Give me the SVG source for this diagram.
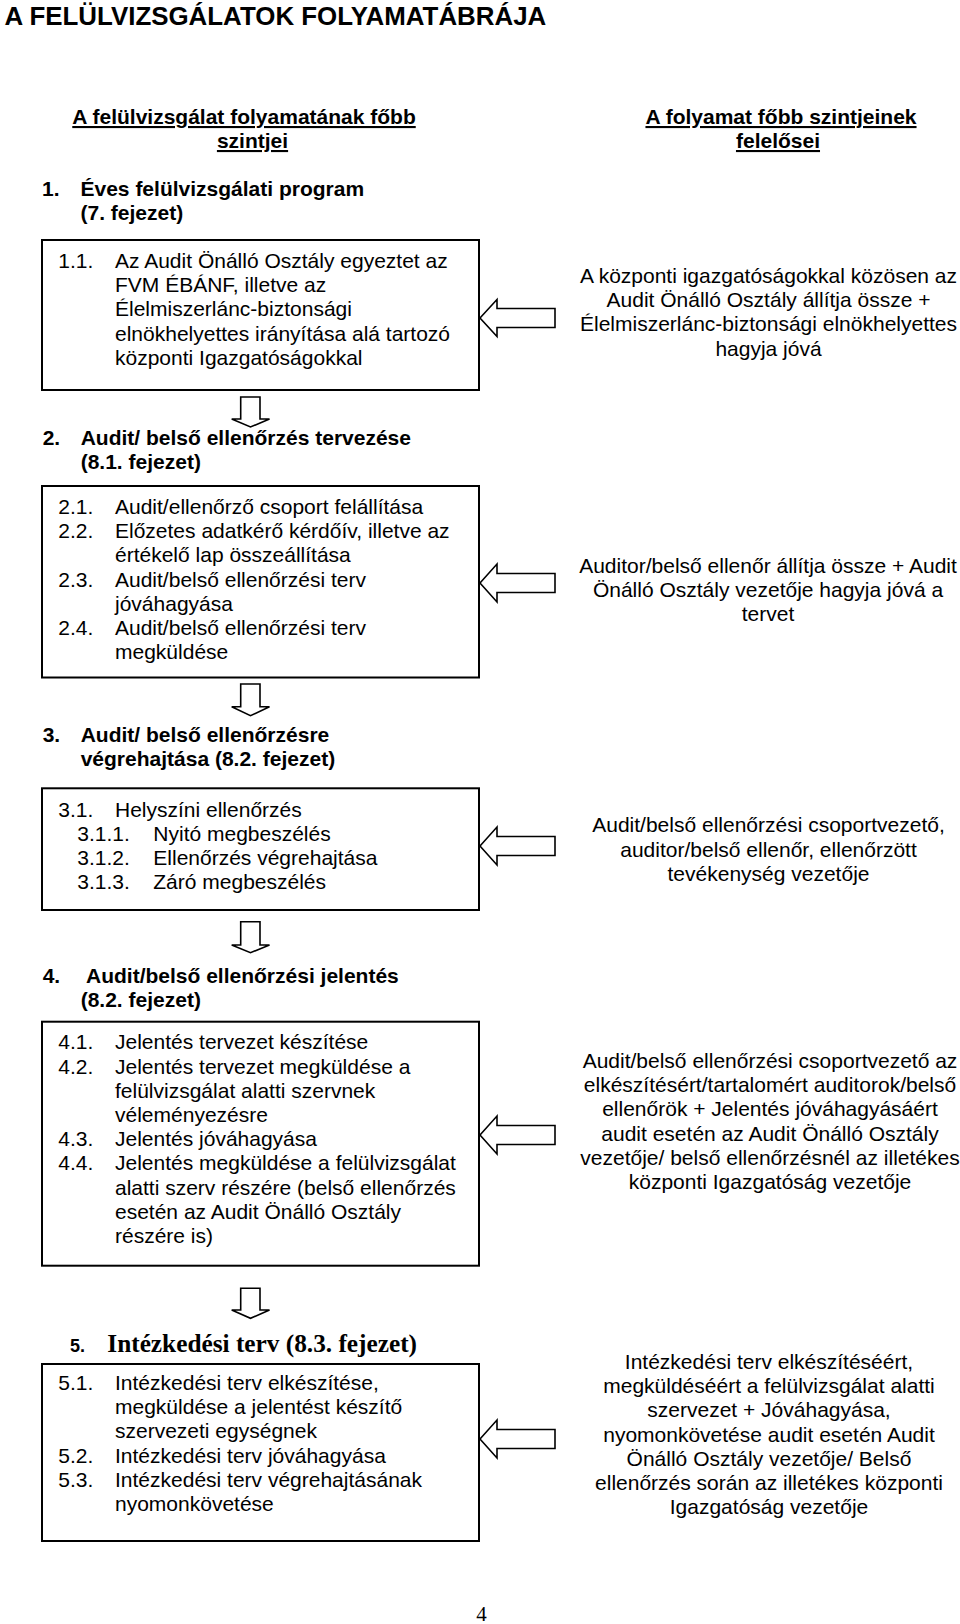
<svg xmlns="http://www.w3.org/2000/svg" width="960" height="1624" viewBox="0 0 960 1624">
<style>
text { font-family: "Liberation Sans", Arial, sans-serif; fill: #000; font-size: 21px; }
.b { font-weight: bold; }
.u { text-decoration: underline; }
.title { font-size: 25.9px; font-weight: bold; }
.r { text-anchor: middle; }
.c { text-anchor: middle; }
.ser { font-family: "Liberation Serif", "Times New Roman", serif; }
.box { fill: #fff; stroke: #000; stroke-width: 2; }
.arr { fill: #fff; stroke: #000; stroke-width: 1.6; stroke-linejoin: miter; }
</style>
<rect width="960" height="1624" fill="#fff"/>

<g id="title">
<text class="title" x="4.5" y="25">A FELÜLVIZSGÁLATOK FOLYAMATÁBRÁJA</text>
</g>

<g id="header-left">
<text class="b u c" x="244" y="124">A felülvizsgálat folyamatának főbb</text>
<text class="b u c" x="252.5" y="148">szintjei</text>
</g>
<g id="header-right">
<text class="b u c" x="781" y="124">A folyamat főbb szintjeinek</text>
<text class="b u c" x="778" y="148">felelősei</text>
</g>

<g id="step1">
<text class="b" x="42" y="196">1.</text>
<text class="b" x="80.5" y="196">Éves felülvizsgálati program</text>
<text class="b" x="80.5" y="220">(7. fejezet)</text>
</g>

<g id="box1">
<rect class="box" x="42" y="240" width="437" height="150"/>
<text x="58.3" y="268">1.1.</text>
<text x="115" y="268">Az Audit Önálló Osztály egyeztet az</text>
<text x="115" y="292.2">FVM ÉBÁNF, illetve az</text>
<text x="115" y="316.4">Élelmiszerlánc-biztonsági</text>
<text x="115" y="340.6">elnökhelyettes irányítása alá tartozó</text>
<text x="115" y="364.8">központi Igazgatóságokkal</text>
</g>

<g id="resp1">
<text class="r" x="768.5" y="283">A központi igazgatóságokkal közösen az</text>
<text class="r" x="768.5" y="307.2">Audit Önálló Osztály állítja össze +</text>
<text class="r" x="768.5" y="331.4">Élelmiszerlánc-biztonsági elnökhelyettes</text>
<text class="r" x="768.5" y="355.6">hagyja jóvá</text>
</g>

<g id="step2">
<text class="b" x="42.7" y="445">2.</text>
<text class="b" x="80.7" y="445">Audit/ belső ellenőrzés tervezése</text>
<text class="b" x="80.7" y="469">(8.1. fejezet)</text>
</g>

<g id="box2">
<rect class="box" x="42" y="486" width="437" height="191.5"/>
<text x="58.3" y="514">2.1.</text>
<text x="115" y="514">Audit/ellenőrző csoport felállítása</text>
<text x="58.3" y="538.2">2.2.</text>
<text x="115" y="538.2">Előzetes adatkérő kérdőív, illetve az</text>
<text x="115" y="562.4">értékelő lap összeállítása</text>
<text x="58.3" y="586.6">2.3.</text>
<text x="115" y="586.6">Audit/belső ellenőrzési terv</text>
<text x="115" y="610.8">jóváhagyása</text>
<text x="58.3" y="635">2.4.</text>
<text x="115" y="635">Audit/belső ellenőrzési terv</text>
<text x="115" y="659.2">megküldése</text>
</g>

<g id="resp2">
<text class="r" x="768" y="573">Auditor/belső ellenőr állítja össze + Audit</text>
<text class="r" x="768" y="597.2">Önálló Osztály vezetője hagyja jóvá a</text>
<text class="r" x="768" y="621.4">tervet</text>
</g>

<g id="step3">
<text class="b" x="42.7" y="741.7">3.</text>
<text class="b" x="80.7" y="741.7">Audit/ belső ellenőrzésre</text>
<text class="b" x="80.7" y="765.7">végrehajtása (8.2. fejezet)</text>
</g>

<g id="box3">
<rect class="box" x="42" y="788.3" width="437" height="121.7"/>
<text x="58.3" y="816.7">3.1.</text>
<text x="115" y="816.7">Helyszíni ellenőrzés</text>
<text x="77.3" y="840.9">3.1.1.</text>
<text x="153.3" y="840.9">Nyitó megbeszélés</text>
<text x="77.3" y="865.1">3.1.2.</text>
<text x="153.3" y="865.1">Ellenőrzés végrehajtása</text>
<text x="77.3" y="889.3">3.1.3.</text>
<text x="153.3" y="889.3">Záró megbeszélés</text>
</g>

<g id="resp3">
<text class="r" x="768.5" y="832.3">Audit/belső ellenőrzési csoportvezető,</text>
<text class="r" x="768.5" y="856.5">auditor/belső ellenőr, ellenőrzött</text>
<text class="r" x="768.5" y="880.7">tevékenység vezetője</text>
</g>

<g id="step4">
<text class="b" x="42.7" y="983.3">4.</text>
<text class="b" x="86" y="983.3">Audit/belső ellenőrzési jelentés</text>
<text class="b" x="80.7" y="1007.3">(8.2. fejezet)</text>
</g>

<g id="box4">
<rect class="box" x="42" y="1021.7" width="437" height="244"/>
<text x="58.3" y="1049.3">4.1.</text>
<text x="115" y="1049.3">Jelentés tervezet készítése</text>
<text x="58.3" y="1073.5">4.2.</text>
<text x="115" y="1073.5">Jelentés tervezet megküldése a</text>
<text x="115" y="1097.7">felülvizsgálat alatti szervnek</text>
<text x="115" y="1121.9">véleményezésre</text>
<text x="58.3" y="1146.1">4.3.</text>
<text x="115" y="1146.1">Jelentés jóváhagyása</text>
<text x="58.3" y="1170.3">4.4.</text>
<text x="115" y="1170.3">Jelentés megküldése a felülvizsgálat</text>
<text x="115" y="1194.5">alatti szerv részére (belső ellenőrzés</text>
<text x="115" y="1218.7">esetén az Audit Önálló Osztály</text>
<text x="115" y="1242.9">részére is)</text>
</g>

<g id="resp4">
<text class="r" x="770" y="1068">Audit/belső ellenőrzési csoportvezető az</text>
<text class="r" x="770" y="1092.2">elkészítésért/tartalomért auditorok/belső</text>
<text class="r" x="770" y="1116.4">ellenőrök + Jelentés jóváhagyásáért</text>
<text class="r" x="770" y="1140.6">audit esetén az Audit Önálló Osztály</text>
<text class="r" x="770" y="1164.8">vezetője/ belső ellenőrzésnél az illetékes</text>
<text class="r" x="770" y="1189">központi Igazgatóság vezetője</text>
</g>

<g id="step5">
<text class="b" x="70" y="1351.7" style="font-size:18px">5.</text>
<text class="b ser" x="107.3" y="1351.7" style="font-size:25.3px">Intézkedési terv (8.3. fejezet)</text>
</g>

<g id="box5">
<rect class="box" x="42" y="1364" width="437" height="177"/>
<text x="58.3" y="1390">5.1.</text>
<text x="115" y="1390">Intézkedési terv elkészítése,</text>
<text x="115" y="1414.2">megküldése a jelentést készítő</text>
<text x="115" y="1438.4">szervezeti egységnek</text>
<text x="58.3" y="1462.6">5.2.</text>
<text x="115" y="1462.6">Intézkedési terv jóváhagyása</text>
<text x="58.3" y="1486.8">5.3.</text>
<text x="115" y="1486.8">Intézkedési terv végrehajtásának</text>
<text x="115" y="1511">nyomonkövetése</text>
</g>

<g id="resp5">
<text class="r" x="769" y="1369">Intézkedési terv elkészítéséért,</text>
<text class="r" x="769" y="1393.2">megküldéséért a felülvizsgálat alatti</text>
<text class="r" x="769" y="1417.4">szervezet + Jóváhagyása,</text>
<text class="r" x="769" y="1441.6">nyomonkövetése audit esetén Audit</text>
<text class="r" x="769" y="1465.8">Önálló Osztály vezetője/ Belső</text>
<text class="r" x="769" y="1490">ellenőrzés során az illetékes központi</text>
<text class="r" x="769" y="1514.2">Igazgatóság vezetője</text>
</g>

<g id="connectors">
<polygon class="arr" points="240.7,397 260,397 260,419 269.5,419 250.5,427 231.7,419 240.7,419"/>
<polygon class="arr" points="240.7,684 260,684 260,706.7 269.5,706.7 250.5,715.7 231.7,706.7 240.7,706.7"/>
<polygon class="arr" points="240.7,921.7 260,921.7 260,945 269.5,945 250.5,952.7 231.7,945 240.7,945"/>
<polygon class="arr" points="240.7,1288.3 260,1288.3 260,1310 269.5,1310 250.5,1318.3 231.7,1310 240.7,1310"/>
<polygon class="arr" points="480,318 497,299.5 497,308.5 555,308.5 555,327.5 497,327.5 497,336.5"/>
<polygon class="arr" points="480,583 497,564 497,573.5 555,573.5 555,592.5 497,592.5 497,602"/>
<polygon class="arr" points="480,846 497,827 497,836.5 555,836.5 555,855.5 497,855.5 497,865"/>
<polygon class="arr" points="480,1135 497,1116 497,1125.5 555,1125.5 555,1144.5 497,1144.5 497,1154"/>
<polygon class="arr" points="480,1439 497,1420 497,1429.5 555,1429.5 555,1448.5 497,1448.5 497,1458"/>
</g>

<g id="page-number">
<text class="ser c" x="481.5" y="1621" style="font-size:21px">4</text>
</g>
</svg>
